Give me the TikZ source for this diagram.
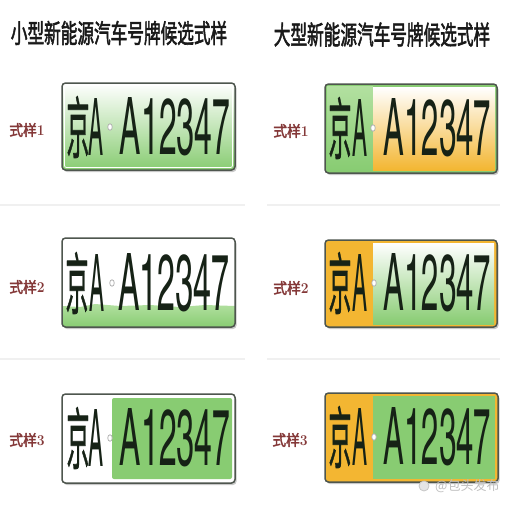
\documentclass[tikz,border=0pt]{standalone}
\usepackage{fontspec}
\usetikzlibrary{shapes.geometric}
\newfontfamily\cjk{Noto Sans CJK SC}
\newfontfamily\cjkm{Noto Sans CJK SC}[FakeBold=1.2]
\newfontfamily\cjkb{Noto Sans CJK SC}[FakeBold=2.5]
\newfontfamily\plf{texgyreheroscn-regular.otf}
\definecolor{pgreen}{RGB}{136,204,114}
\definecolor{pgreenl}{RGB}{178,224,160}
\definecolor{pyellow}{RGB}{243,182,50}
\definecolor{ptext}{RGB}{22,34,22}
\definecolor{pborder}{RGB}{78,86,78}
\definecolor{lblred}{RGB}{132,56,56}
\definecolor{sepc}{RGB}{240,240,240}
\definecolor{shadowc}{RGB}{200,200,200}
\newcommand\jing{\resizebox*{23pt}{62pt}{\cjkm 京}}
\newcommand\plA{\resizebox{15pt}{57pt}{\plf A}}
\newcommand\plnum[1]{\resizebox{#1}{57pt}{\plf A12347}}
\newcommand\lbltext[1]{\scalebox{0.92}[1]{{\cjkb 式样}{\bfseries #1}}}
\newcommand\ttltext[1]{\scalebox{0.64}[1]{#1}}
\tikzset{
  plateedge/.style={draw=pborder, line width=1.5pt, rounded corners=3.5pt},
  plateshadow/.style={fill=shadowc, rounded corners=3.5pt},
  lbl/.style={text=lblred, font=\fontsize{15}{16}\selectfont, inner sep=0},
  ttl/.style={font=\cjkb\fontsize{26}{27}\selectfont, inner sep=0, text=black!90},
  pch/.style={inner sep=0, text=ptext},
  hole/.style={ellipse, draw=gray!65, fill=white, inner sep=0, minimum width=4.5pt, minimum height=6.5pt, line width=0.7pt},
  sep/.style={draw=sepc, line width=1.2pt},
  wm/.style={text=gray!50, font=\cjk\fontsize{13}{14}\selectfont, inner sep=0}
}
\begin{document}
\begin{tikzpicture}[x=1pt,y=-1pt]
\useasboundingbox (0,0) rectangle (512,512);
\fill[white] (0,0) rectangle (512,512);

% titles
\node[ttl] (t1) at (119,33) {\ttltext{小型新能源汽车号牌候选式样}};
\node[ttl] (t2) at (382,34.5) {\ttltext{大型新能源汽车号牌候选式样}};

% separators
\draw[sep] (0,205) -- (245,205);
\draw[sep] (267,205) -- (500,205);
\draw[sep] (0,359) -- (245,359);
\draw[sep] (267,359) -- (500,359);

% labels
\node[lbl] (l1) at (27,130) {\lbltext{1}};
\node[lbl] (l2) at (27,287) {\lbltext{2}};
\node[lbl] (l3) at (27,440) {\lbltext{3}};
\node[lbl] (r1) at (291,131) {\lbltext{1}};
\node[lbl] (r2) at (291,288) {\lbltext{2}};
\node[lbl] (r3) at (290,440) {\lbltext{3}};

% ---------- small plate 1 ----------
\fill[plateshadow] (63.5,85) rectangle (236.5,172);
\begin{scope}
\clip[rounded corners=3.5pt] (62,83) rectangle (235,170);
\shade[top color=white, middle color=pgreenl!60, bottom color=pgreen] (62,83) rectangle (235,170);
\end{scope}
\draw[white, line width=0.8pt, rounded corners=2pt] (64.5,85.5) rectangle (232.5,167.5);
\draw[plateedge] (62,83) rectangle (235,170);
\node[pch] (s1j) at (78,127) {\jing};
\node[pch] (s1a) at (96,127) {\plA};
\node[hole] (s1h) at (110,127) {};
\node[pch] (s1n) at (175,127) {\plnum{110pt}};

% ---------- small plate 2 ----------
\fill[plateshadow] (63.5,240) rectangle (236.5,329);
\begin{scope}
\clip[rounded corners=3.5pt] (62,238) rectangle (235,327);
\fill[white] (62,238) rectangle (235,327);
\shade[top color=pgreenl, bottom color=pgreen] (62,306) -- (80,307) -- (95,304) -- (120,306) -- (150,305) -- (180,307) -- (205,305) -- (235,306) -- (235,327) -- (62,327) -- cycle;
\end{scope}
\draw[plateedge] (62,238) rectangle (235,327);
\node[pch] (s2j) at (77,283) {\jing};
\node[pch] (s2a) at (97,283) {\plA};
\node[hole] (s2h) at (112,283) {};
\node[pch] (s2n) at (174,283) {\plnum{111pt}};

% ---------- small plate 3 ----------
\fill[plateshadow] (63.5,396) rectangle (236.5,485);
\fill[white, rounded corners=3.5pt] (62,394) rectangle (235,483);
\fill[pgreen, rounded corners=2pt] (112,398) rectangle (232,479);
\draw[plateedge] (62,394) rectangle (235,483);
\node[pch] (s3j) at (78,438) {\jing};
\node[pch] (s3a) at (96,438) {\plA};
\node[hole] (s3h) at (110,438) {};
\node[pch] (s3n) at (175,438) {\plnum{110pt}};

% ---------- large plate 1 ----------
\fill[plateshadow] (326.5,86) rectangle (498.5,175);
\begin{scope}
\clip[rounded corners=3.5pt] (325,84) rectangle (497,173);
\fill[pgreen] (325,84) rectangle (497,173);
\shade[top color=pgreenl, bottom color=pgreen] (327,86) rectangle (373,171);
\shade[top color=white, middle color=pyellow!35, bottom color=pyellow] (373,87) rectangle (495,170);
\end{scope}
\draw[plateedge] (325,84) rectangle (497,173);
\node[pch] (b1j) at (340,128) {\jing};
\node[pch] (b1a) at (360,128) {\plA};
\node[hole] (b1h) at (373,128) {};
\node[pch] (b1n) at (437.5,128) {\plnum{107pt}};

% ---------- large plate 2 ----------
\fill[plateshadow] (326.5,242) rectangle (498.5,329);
\begin{scope}
\clip[rounded corners=3.5pt] (325,240) rectangle (497,327);
\fill[pyellow] (325,240) rectangle (497,327);
\shade[top color=white, middle color=pgreenl!55, bottom color=pgreen] (373,243) rectangle (494,324);
\end{scope}
\draw[plateedge] (325,240) rectangle (497,327);
\node[pch] (b2j) at (340,283) {\jing};
\node[pch] (b2a) at (360,283) {\plA};
\node[hole] (b2h) at (374,283) {};
\node[pch] (b2n) at (437.5,283) {\plnum{107pt}};

% ---------- large plate 3 ----------
\fill[plateshadow] (326.5,395) rectangle (499.5,484);
\begin{scope}
\clip[rounded corners=3.5pt] (325,393) rectangle (498,482);
\fill[pyellow] (325,393) rectangle (498,482);
\fill[pgreen] (373,396) rectangle (495,479);
\end{scope}
\draw[plateedge] (325,393) rectangle (498,482);
\node[pch] (b3j) at (340,437) {\jing};
\node[pch] (b3a) at (360,437) {\plA};
\node[hole] (b3h) at (374,437) {};
\node[pch] (b3n) at (437.5,437) {\plnum{107pt}};

% watermark
\node[circle, draw=gray!45, fill=gray!20, line width=0.8pt, minimum size=10pt, inner sep=0] (wmi) at (424,486) {};
\node[wm, anchor=west] (wmt) at (435,486) {@包头发布};
\end{tikzpicture}
\end{document}
